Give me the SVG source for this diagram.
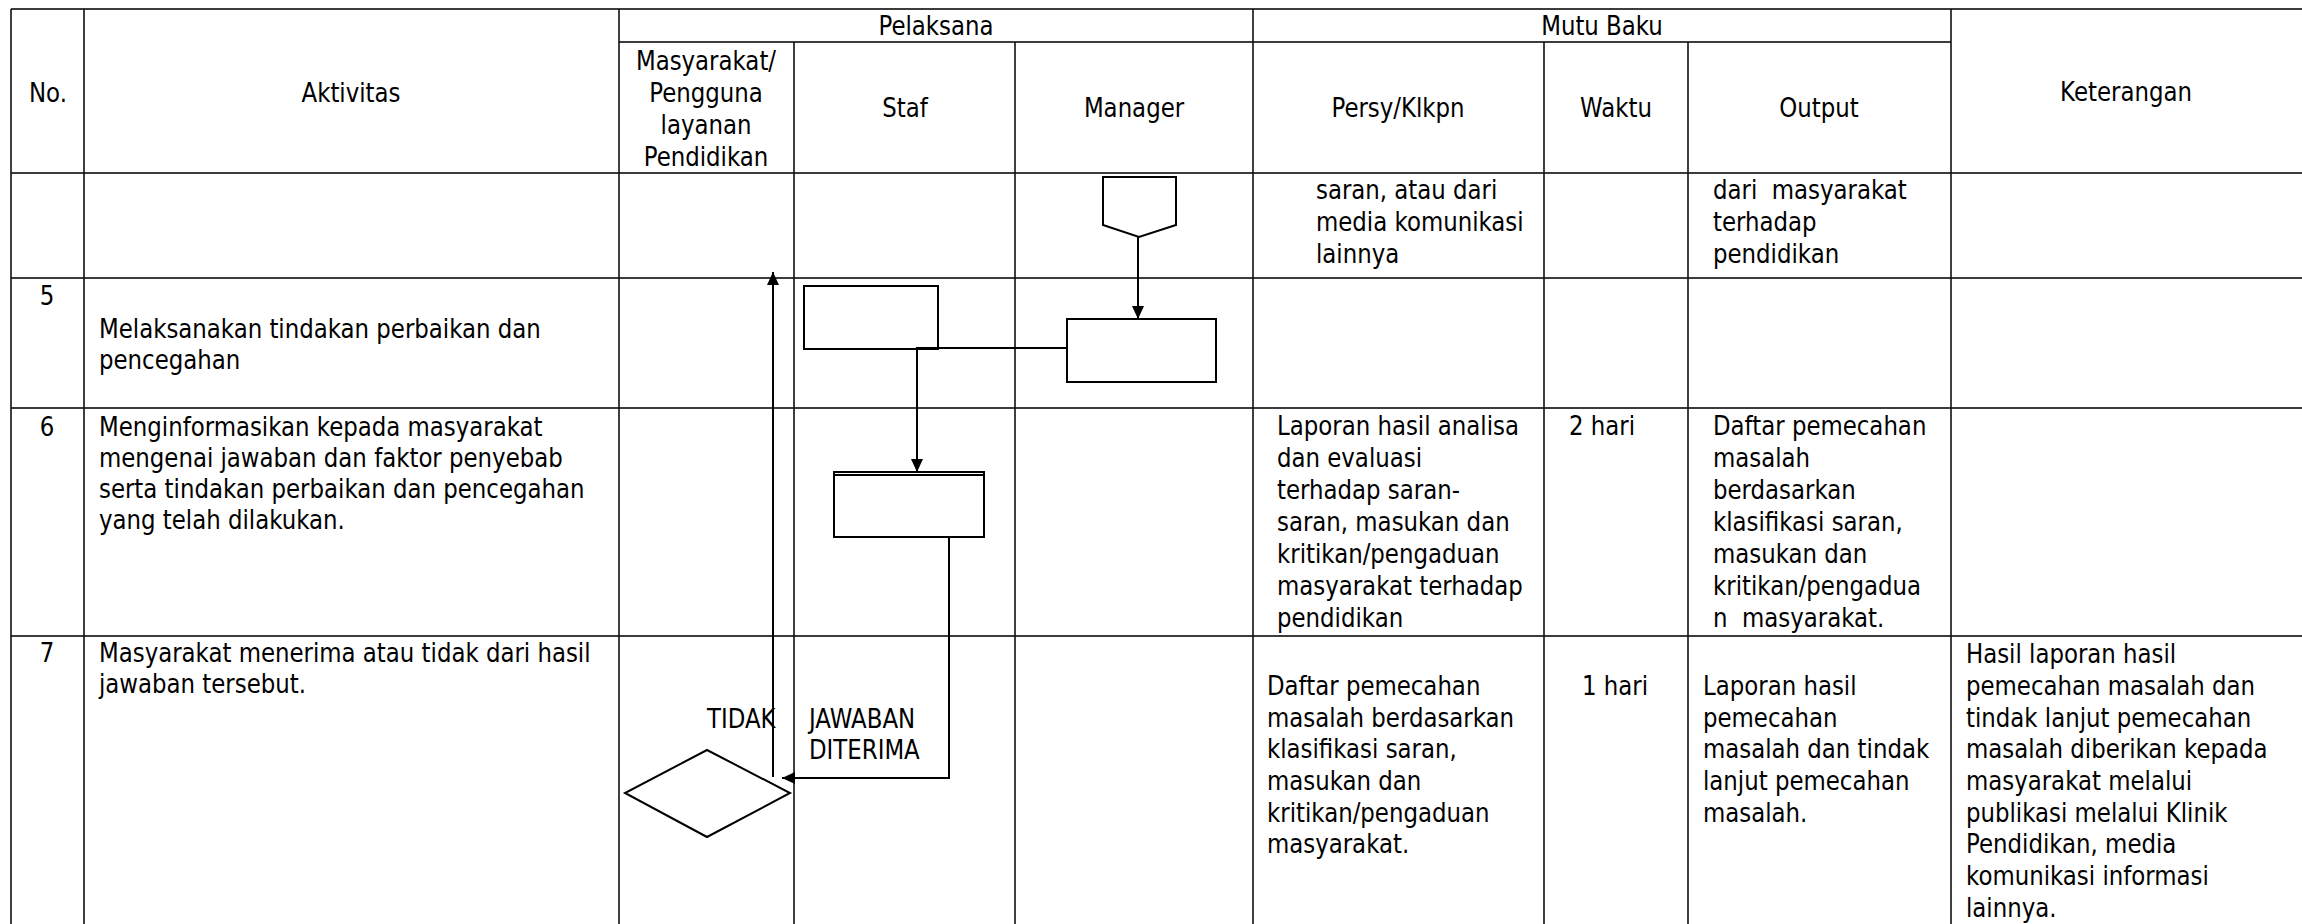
<svg xmlns="http://www.w3.org/2000/svg" width="2302" height="924" viewBox="0 0 2302 924">
<style>
.bg{fill:#fff}
.h{stroke:#3c3c3c;stroke-width:2.2;fill:none}
.v{stroke:#111;stroke-width:1.6;fill:none}
.shape{fill:#fff;stroke:#000;stroke-width:2}
.con{stroke:#000;stroke-width:2;fill:none}
text{font-family:'DejaVu Sans',Verdana,sans-serif;font-size:26px;fill:#000;white-space:pre}
.c{text-anchor:middle}
</style>
<defs>
<marker id="ah" markerWidth="13" markerHeight="12" refX="13" refY="6" orient="auto" markerUnits="userSpaceOnUse">
<path d="M0,0 L13,6 L0,12 Z" fill="#000"/>
</marker>
</defs>
<rect class="bg" x="0" y="0" width="2302" height="924"/>
<g id="table">
<path class="h" d="M11,9H2302 M619,42H1951 M11,173H2302 M11,278H2302 M11,408H2302 M11,636H2302"/>
<path class="v" d="M11,9V924 M84,9V924 M619,9V924 M794,42V924 M1015,42V924 M1253,9V924 M1544,42V924 M1688,42V924 M1951,9V924"/>
</g>
<g id="header">
<text class="c" transform="matrix(.88 0 0 1 48 0)" x="0" y="102">No.</text>
<text class="c" transform="matrix(.88 0 0 1 351 0)" x="0" y="102">Aktivitas</text>
<text class="c" transform="matrix(.88 0 0 1 936 0)" x="0" y="35">Pelaksana</text>
<text class="c" transform="matrix(.88 0 0 1 1602 0)" x="0" y="35">Mutu Baku</text>
<text class="c" transform="matrix(.88 0 0 1 2126 0)" x="0" y="101">Keterangan</text>
<g transform="matrix(.88 0 0 1 706 0)">
<text class="c" x="0" y="70">Masyarakat/</text>
<text class="c" x="0" y="102">Pengguna</text>
<text class="c" x="0" y="134">layanan</text>
<text class="c" x="0" y="166">Pendidikan</text>
</g>
<text class="c" transform="matrix(.88 0 0 1 905 0)" x="0" y="117">Staf</text>
<text class="c" transform="matrix(.88 0 0 1 1134 0)" x="0" y="117">Manager</text>
<text class="c" transform="matrix(.88 0 0 1 1398 0)" x="0" y="117">Persy/Klkpn</text>
<text class="c" transform="matrix(.88 0 0 1 1616 0)" x="0" y="117">Waktu</text>
<text class="c" transform="matrix(.88 0 0 1 1819 0)" x="0" y="117">Output</text>
</g>
<g id="row-cont">
<g transform="matrix(.88 0 0 1 1316 0)">
<text x="0" y="199">saran, atau dari</text>
<text x="0" y="231">media komunikasi</text>
<text x="0" y="263">lainnya</text>
</g>
<g transform="matrix(.88 0 0 1 1713 0)">
<text x="0" y="199">dari  masyarakat</text>
<text x="0" y="231">terhadap</text>
<text x="0" y="263">pendidikan</text>
</g>
</g>
<g id="row-5">
<text class="c" transform="matrix(.88 0 0 1 47 0)" x="0" y="305">5</text>
<g transform="matrix(.88 0 0 1 99 0)">
<text x="0" y="338">Melaksanakan tindakan perbaikan dan</text>
<text x="0" y="369">pencegahan</text>
</g>
</g>
<g id="row-6">
<text class="c" transform="matrix(.88 0 0 1 47 0)" x="0" y="436">6</text>
<g transform="matrix(.88 0 0 1 99 0)">
<text x="0" y="436">Menginformasikan kepada masyarakat</text>
<text x="0" y="467">mengenai jawaban dan faktor penyebab</text>
<text x="0" y="498">serta tindakan perbaikan dan pencegahan</text>
<text x="0" y="529">yang telah dilakukan.</text>
</g>
<g transform="matrix(.88 0 0 1 1277 0)">
<text x="0" y="435">Laporan hasil analisa</text>
<text x="0" y="467">dan evaluasi</text>
<text x="0" y="499">terhadap saran-</text>
<text x="0" y="531">saran, masukan dan</text>
<text x="0" y="563">kritikan/pengaduan</text>
<text x="0" y="595">masyarakat terhadap</text>
<text x="0" y="627">pendidikan</text>
</g>
<text transform="matrix(.88 0 0 1 1569 0)" x="0" y="435">2 hari</text>
<g transform="matrix(.88 0 0 1 1713 0)">
<text x="0" y="435">Daftar pemecahan</text>
<text x="0" y="467">masalah</text>
<text x="0" y="499">berdasarkan</text>
<text x="0" y="531">klasifikasi saran,</text>
<text x="0" y="563">masukan dan</text>
<text x="0" y="595">kritikan/pengadua</text>
<text x="0" y="627">n  masyarakat.</text>
</g>
</g>
<g id="row-7">
<text class="c" transform="matrix(.88 0 0 1 47 0)" x="0" y="662">7</text>
<g transform="matrix(.88 0 0 1 99 0)">
<text x="0" y="662">Masyarakat menerima atau tidak dari hasil</text>
<text x="0" y="693">jawaban tersebut.</text>
</g>
<g transform="matrix(.88 0 0 1 1267 0)">
<text x="0" y="695">Daftar pemecahan</text>
<text x="0" y="727">masalah berdasarkan</text>
<text x="0" y="758">klasifikasi saran,</text>
<text x="0" y="790">masukan dan</text>
<text x="0" y="822">kritikan/pengaduan</text>
<text x="0" y="853">masyarakat.</text>
</g>
<text class="c" transform="matrix(.88 0 0 1 1615 0)" x="0" y="695">1 hari</text>
<g transform="matrix(.88 0 0 1 1703 0)">
<text x="0" y="695">Laporan hasil</text>
<text x="0" y="727">pemecahan</text>
<text x="0" y="758">masalah dan tindak</text>
<text x="0" y="790">lanjut pemecahan</text>
<text x="0" y="822">masalah.</text>
</g>
<g transform="matrix(.88 0 0 1 1966 0)">
<text x="0" y="663">Hasil laporan hasil</text>
<text x="0" y="695">pemecahan masalah dan</text>
<text x="0" y="727">tindak lanjut pemecahan</text>
<text x="0" y="758">masalah diberikan kepada</text>
<text x="0" y="790">masyarakat melalui</text>
<text x="0" y="822">publikasi melalui Klinik</text>
<text x="0" y="853">Pendidikan, media</text>
<text x="0" y="885">komunikasi informasi</text>
<text x="0" y="917">lainnya.</text>
</g>
</g>
<g id="node-offpage">
<path class="shape" d="M1103,177H1176V225L1139,237L1103,225Z"/>
</g>
<g id="node-manager">
<rect class="shape" x="1067" y="319" width="149" height="63"/>
</g>
<g id="node-staf1">
<rect class="shape" x="804" y="286" width="134" height="63"/>
</g>
<g id="node-staf2">
<rect class="shape" x="834" y="472" width="150" height="65"/>
<path class="con" d="M834,475H984"/>
</g>
<g id="node-decision">
<path class="shape" d="M707,750L790,793L707,837L625,793Z"/>
</g>
<g id="connectors">
<path class="con" d="M1138,237V319" marker-end="url(#ah)"/>
<path class="con" d="M1067,348H917V472" marker-end="url(#ah)"/>
<path class="con" d="M906,537H949V778H782" marker-end="url(#ah)"/>
<path class="con" d="M773,777V272" marker-end="url(#ah)"/>
</g>
<g id="labels">
<text transform="matrix(.88 0 0 1 707 0)" x="0" y="728">TIDAK</text>
<g transform="matrix(.88 0 0 1 809 0)">
<text x="0" y="728">JAWABAN</text>
<text x="0" y="759">DITERIMA</text>
</g>
</g>
</svg>
